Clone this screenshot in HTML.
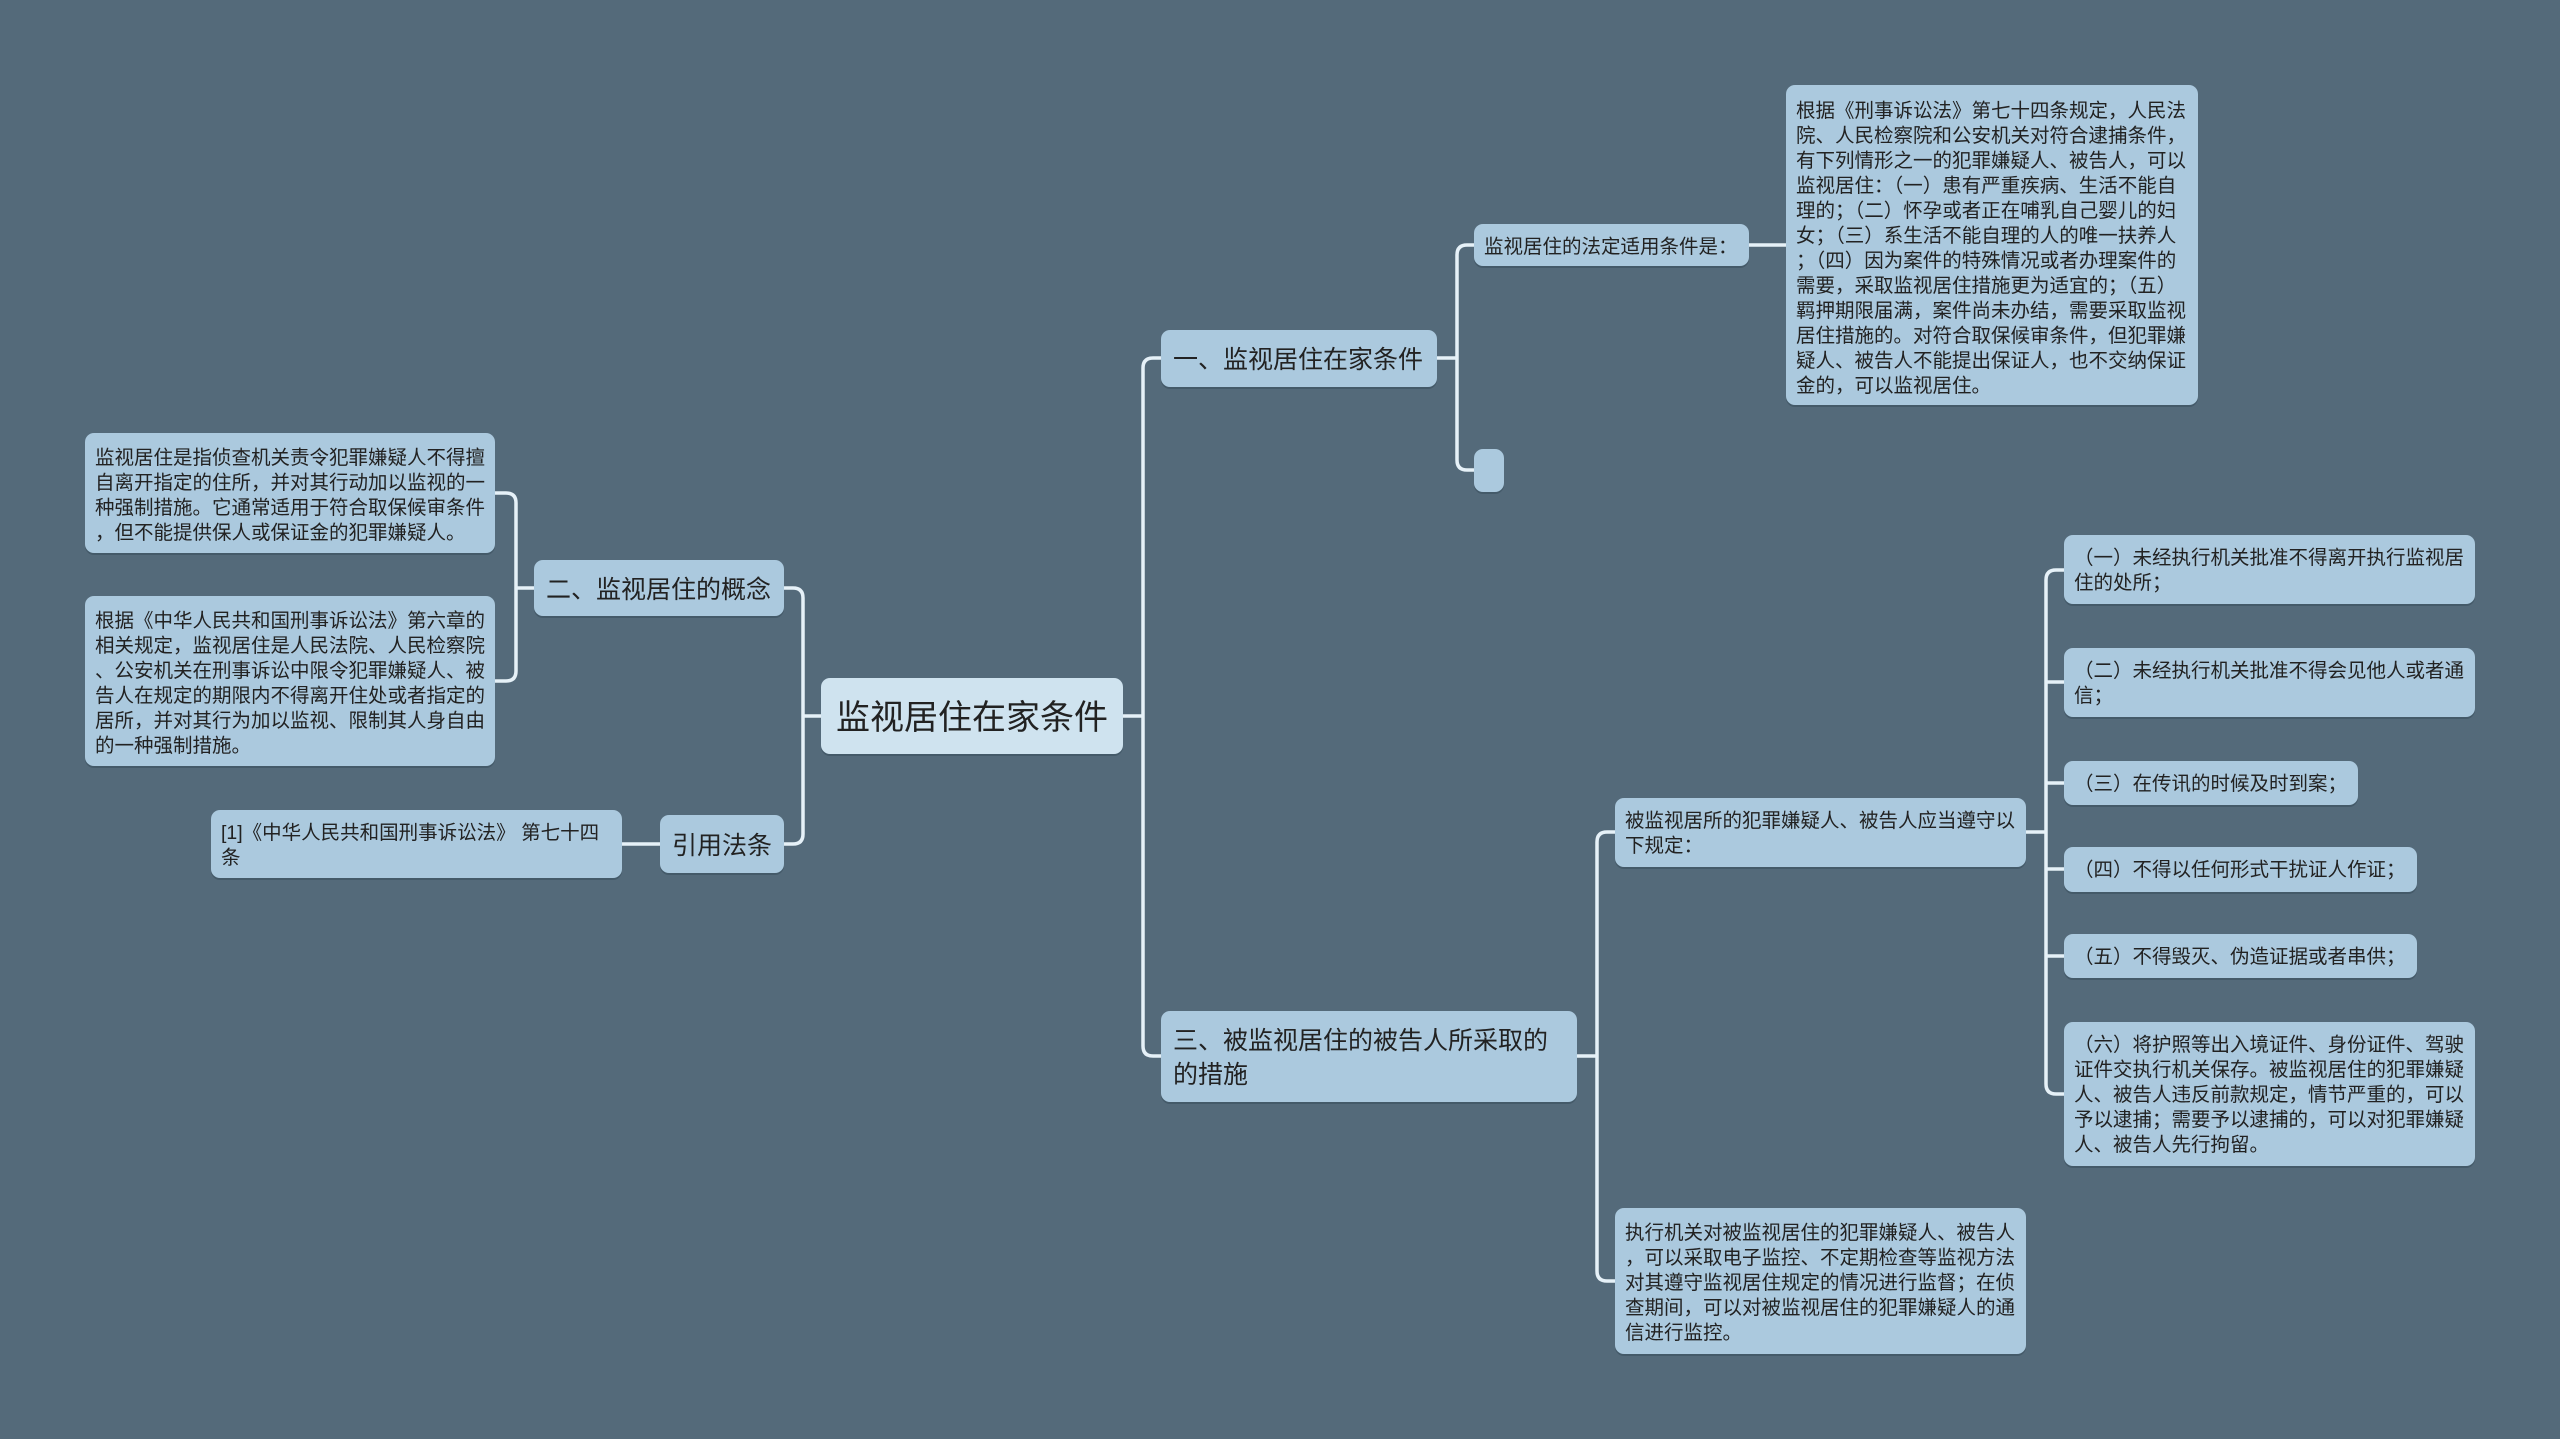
<!DOCTYPE html>
<html><head><meta charset="utf-8"><style>
html,body{margin:0;padding:0}
body{width:2560px;height:1439px;background:#546a7a;position:relative;overflow:hidden;font-family:"Liberation Sans","Noto Sans CJK SC",sans-serif;}
.n{position:absolute;background:#abc9de;border-radius:9px;color:#222;box-sizing:border-box;padding:11px 10px 8px;font-size:19.5px;line-height:25px;white-space:nowrap;box-shadow:0 2px 0 rgba(40,60,75,0.35)}
.m{font-size:25px;line-height:34px;display:flex;align-items:center;padding:3px 12px 0}
svg{position:absolute;left:0;top:0}
</style></head><body>
<svg width="2560" height="1439" fill="none" stroke="#e6f1f8" stroke-width="3.5">
<path d="M1123 716 H1143 M1161 358 H1153 Q1143 358 1143 368 V1046 Q1143 1056 1153 1056 H1161"/>
<path d="M821 716 H803 M784 588 H793 Q803 588 803 598 V834 Q803 844 793 844 H784"/>
<path d="M1437 358 H1457 M1474 245 H1467 Q1457 245 1457 255 V460 Q1457 470 1467 470 H1474"/>
<path d="M1749 245 H1786"/>
<path d="M1577 1056 H1597 M1615 832 H1607 Q1597 832 1597 842 V1271 Q1597 1281 1607 1281 H1615"/>
<path d="M2026 832 H2046 M2064 570 H2056 Q2046 570 2046 580 V1084 Q2046 1094 2056 1094 H2064 M2046 682 H2064 M2046 783 H2064 M2046 869 H2064 M2046 956 H2064"/>
<path d="M534 588 H516 M495 493 H506 Q516 493 516 503 V671 Q516 681 506 681 H495"/>
<path d="M660 844 H622"/>
</svg>

<div class="n m" style="left:821px;top:678px;width:302px;height:76px;background:#cfe3ef;font-size:34px;justify-content:center">监视居住在家条件</div>

<div class="n m" style="left:1161px;top:330px;width:276px;height:57px">一、监视居住在家条件</div>
<div class="n m" style="left:1474px;top:224px;width:275px;height:42px;font-size:19.5px;padding:3px 10px 0">监视居住的法定适用条件是：</div>
<div class="n" style="left:1786px;top:85px;width:412px;height:320px;padding:14px 10px 8px">根据《刑事诉讼法》第七十四条规定，人民法<br>院、人民检察院和公安机关对符合逮捕条件，<br>有下列情形之一的犯罪嫌疑人、被告人，可以<br>监视居住：（一）患有严重疾病、生活不能自<br>理的；（二）怀孕或者正在哺乳自己婴儿的妇<br>女；（三）系生活不能自理的人的唯一扶养人<br>；（四）因为案件的特殊情况或者办理案件的<br>需要，采取监视居住措施更为适宜的；（五）<br>羁押期限届满，案件尚未办结，需要采取监视<br>居住措施的。对符合取保候审条件，但犯罪嫌<br>疑人、被告人不能提出保证人，也不交纳保证<br>金的，可以监视居住。</div>
<div class="n" style="left:1474px;top:449px;width:30px;height:43px;padding:0"></div>

<div class="n m" style="left:1161px;top:1011px;width:416px;height:91px">三、被监视居住的被告人所采取的<br>的措施</div>
<div class="n" style="left:1615px;top:798px;width:411px;height:69px">被监视居所的犯罪嫌疑人、被告人应当遵守以<br>下规定：</div>
<div class="n" style="left:1615px;top:1208px;width:411px;height:146px;padding-top:13px">执行机关对被监视居住的犯罪嫌疑人、被告人<br>，可以采取电子监控、不定期检查等监视方法<br>对其遵守监视居住规定的情况进行监督；在侦<br>查期间，可以对被监视居住的犯罪嫌疑人的通<br>信进行监控。</div>

<div class="n" style="left:2064px;top:535px;width:411px;height:69px">（一）未经执行机关批准不得离开执行监视居<br>住的处所；</div>
<div class="n" style="left:2064px;top:648px;width:411px;height:69px">（二）未经执行机关批准不得会见他人或者通<br>信；</div>
<div class="n" style="left:2064px;top:761px;width:294px;height:44px">（三）在传讯的时候及时到案；</div>
<div class="n" style="left:2064px;top:847px;width:353px;height:45px">（四）不得以任何形式干扰证人作证；</div>
<div class="n" style="left:2064px;top:934px;width:353px;height:44px">（五）不得毁灭、伪造证据或者串供；</div>
<div class="n" style="left:2064px;top:1022px;width:411px;height:144px;padding-top:11px">（六）将护照等出入境证件、身份证件、驾驶<br>证件交执行机关保存。被监视居住的犯罪嫌疑<br>人、被告人违反前款规定，情节严重的，可以<br>予以逮捕；需要予以逮捕的，可以对犯罪嫌疑<br>人、被告人先行拘留。</div>

<div class="n m" style="left:534px;top:560px;width:250px;height:56px">二、监视居住的概念</div>
<div class="n" style="left:85px;top:433px;width:410px;height:120px;padding-top:13px">监视居住是指侦查机关责令犯罪嫌疑人不得擅<br>自离开指定的住所，并对其行动加以监视的一<br>种强制措施。它通常适用于符合取保候审条件<br>，但不能提供保人或保证金的犯罪嫌疑人。</div>
<div class="n" style="left:85px;top:596px;width:410px;height:170px;padding-top:13px">根据《中华人民共和国刑事诉讼法》第六章的<br>相关规定，监视居住是人民法院、人民检察院<br>、公安机关在刑事诉讼中限令犯罪嫌疑人、被<br>告人在规定的期限内不得离开住处或者指定的<br>居所，并对其行为加以监视、限制其人身自由<br>的一种强制措施。</div>
<div class="n m" style="left:660px;top:815px;width:124px;height:58px">引用法条</div>
<div class="n" style="left:211px;top:810px;width:411px;height:68px">[1]《中华人民共和国刑事诉讼法》 第七十四<br>条</div>
</body></html>
